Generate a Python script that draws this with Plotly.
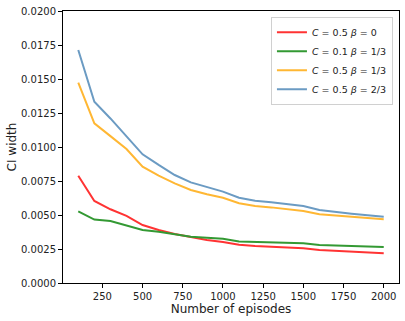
import plotly.graph_objects as go

episodes = [100, 200, 300, 400, 500, 600, 700, 800, 900, 1000,
            1100, 1200, 1300, 1400, 1500, 1600, 1700, 1800, 1900, 2000]

ci_c05_b0 = [0.00789, 0.00603, 0.00542, 0.00493, 0.00426, 0.00390, 0.00360, 0.00336, 0.00316, 0.00301,
             0.00282, 0.00272, 0.00266, 0.00261, 0.00255, 0.00243, 0.00237, 0.00231, 0.00225, 0.00218]
ci_c01_b13 = [0.00527, 0.00466, 0.00456, 0.00424, 0.00390, 0.00377, 0.00360, 0.00340, 0.00333, 0.00326,
              0.00306, 0.00302, 0.00300, 0.00297, 0.00292, 0.00279, 0.00275, 0.00271, 0.00268, 0.00265]
ci_c05_b13 = [0.01473, 0.01174, 0.01080, 0.00985, 0.00855, 0.00789, 0.00733, 0.00684, 0.00652, 0.00627,
              0.00586, 0.00566, 0.00556, 0.00544, 0.00529, 0.00505, 0.00495, 0.00485, 0.00476, 0.00468]
ci_c05_b23 = [0.01713, 0.01333, 0.01210, 0.01076, 0.00946, 0.00868, 0.00794, 0.00740, 0.00704, 0.00672,
              0.00627, 0.00605, 0.00593, 0.00581, 0.00566, 0.00537, 0.00522, 0.00510, 0.00498, 0.00488]

series = [
    ("<i>C</i> = 0.5 <i>β</i> = 0", ci_c05_b0, "#ff3333"),
    ("<i>C</i> = 0.1 <i>β</i> = 1/3", ci_c01_b13, "#339933"),
    ("<i>C</i> = 0.5 <i>β</i> = 1/3", ci_c05_b13, "#ffb733"),
    ("<i>C</i> = 0.5 <i>β</i> = 2/3", ci_c05_b23, "#6b9bc3"),
]

fig = go.Figure()
for name, vals, color in series:
    fig.add_trace(go.Scatter(x=episodes, y=vals, mode="lines", name=name,
                             line=dict(color=color, width=2)))

fig.update_layout(
    width=405, height=321,
    margin=dict(l=63, r=6, t=11, b=38),
    paper_bgcolor="white", plot_bgcolor="white",
    font=dict(family="DejaVu Sans", size=10, color="#222222"),
    legend=dict(x=0.982, y=0.979, xanchor="right", yanchor="top",
                bgcolor="white", bordercolor="#d0d0d0", borderwidth=1,
                font=dict(size=9.5), tracegroupgap=0, itemwidth=30),
)
fig.update_xaxes(
    title_text="Number of episodes", title_standoff=3,
    range=[5, 2095], tickvals=[250, 500, 750, 1000, 1250, 1500, 1750, 2000],
    showgrid=False, zeroline=False, showline=True, linecolor="black", linewidth=1,
    mirror=True, ticks="outside", ticklen=4, tickcolor="black", automargin=False,
)
fig.update_yaxes(
    title_text="CI width", title_standoff=1,
    range=[0, 0.02], dtick=0.0025, tickformat=".4f",
    showgrid=False, zeroline=False, showline=True, linecolor="black", linewidth=1,
    mirror=True, ticks="outside", ticklen=4, tickcolor="black", automargin=False,
)

fig.write_html("out.html", config={"displayModeBar": False},
               post_script="document.body.style.margin = '0';")
